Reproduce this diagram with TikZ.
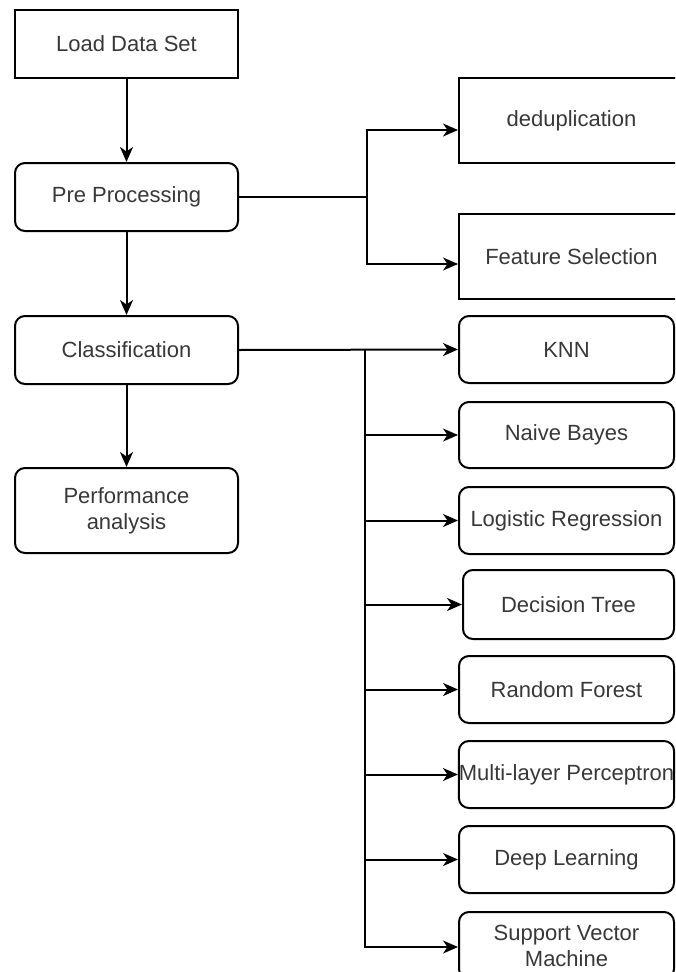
\documentclass[tikz,border=0pt]{standalone}
\usepackage{fontspec}
\setmainfont{Liberation Sans}
\usetikzlibrary{arrows.meta}
\begin{document}
\begin{tikzpicture}[x=1pt,y=-1pt,
  every node/.style={font=\fontsize{22}{25}\selectfont, text=black!78, inner sep=0pt, align=center},
  sqbox/.style={draw, line width=2pt, minimum width=#1, minimum height=85pt},
  sqbox/.default=223pt,
  rbox/.style={draw, line width=2pt, rounded corners=10pt, minimum width=223pt, minimum height=68pt},
  algbox/.style={draw, line width=2pt, rounded corners=10pt, minimum width=215pt, minimum height=67pt},
  link/.style={line width=2pt, draw=black},
  arr/.style={link, -{Stealth[length=15pt,width=13pt,inset=4.5pt]}}]
\useasboundingbox (0,0) rectangle (675,972);
\clip (0,0) rectangle (675,972);

% main pipeline
\node[sqbox, minimum height=68pt] (load) at (126.5,44) {Load Data Set};
\node[rbox] (pre)  at (126.5,197) {Pre Processing};
\node[rbox] (cls)  at (126.5,350) {Classification};
\node[rbox, minimum height=85pt] (perf) at (126.5,510.5) {Performance\\[1pt]analysis};

% pre-processing steps
\node[sqbox=225pt] (dedup) at (571.5,120.5) {deduplication};
\node[sqbox=225pt] (feat)  at (571.5,256.5) {Feature Selection};

% classifiers
\node[algbox] (knn) at (566.5,349.5) {KNN};
\node[algbox, minimum height=66pt] (nb) at (566.5,435) {Naive Bayes};
\node[algbox] (lr)  at (566.5,520.5) {Logistic Regression};
\node[algbox, minimum width=211pt, minimum height=69pt] (dt) at (568.5,604.5) {Decision Tree};
\node[algbox] (rf)  at (566.5,689.5) {Random Forest};
\node[algbox] (mlp) at (566.5,774.5) {Multi-layer Perceptron};
\node[algbox] (dl)  at (566.5,859.5) {Deep Learning};
\node[algbox] (svm) at (566.5,945.5) {Support Vector\\[1pt]Machine};

% vertical flow
\draw[arr] (load) -- (pre);
\draw[arr] (pre) -- (cls);
\draw[arr] (cls) -- (perf);

% pre-processing fork
\coordinate (fork) at (367,197);
\draw[link] (pre.east) -- (fork);
\draw[arr] (fork) |- ([yshift=-9.5pt]dedup.west);
\draw[arr] (fork) |- ([yshift=-7.5pt]feat.west);

% classifier bus
\coordinate (bus) at (365,350);
\draw[arr] (cls.east) -- (knn.west);
\draw[arr] (bus) |- ([yshift=-1.5pt]svm.west);
\draw[arr] (bus |- nb.west) -- (nb.west);
\draw[arr] (bus |- lr.west) -- (lr.west);
\draw[arr] (bus |- dt.west) -- (dt.west);
\draw[arr] (bus |- rf.west) -- (rf.west);
\draw[arr] (bus |- mlp.west) -- (mlp.west);
\draw[arr] (bus |- dl.west) -- (dl.west);
\end{tikzpicture}
\end{document}
